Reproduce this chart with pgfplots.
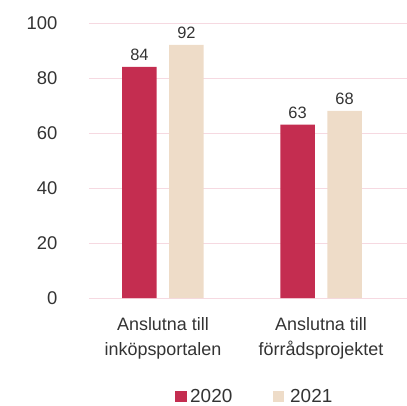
\documentclass[border=0pt]{standalone}
\usepackage{pgfplots}
\pgfplotsset{compat=1.18}
\usepackage{fontspec}
\setmainfont{Liberation Sans}
\definecolor{crim}{HTML}{C42D50}
\definecolor{beige}{HTML}{EEDCC8}
\definecolor{gridc}{HTML}{F6D9E1}
\definecolor{txt}{HTML}{333333}
\begin{document}
\begin{tikzpicture}
\useasboundingbox (-89bp,-108bp) rectangle (318bp,298bp);
\begin{axis}[
  at={(0,0)}, anchor=south west,
  scale only axis, width=318bp, height=275bp,
  xmin=-0.468, xmax=1.544, ymin=0, ymax=100,
  axis line style={draw=none},
  ytick={0,20,...,100},
  ymajorgrids, grid style={gridc, line width=0.8pt},
  major tick length=0pt,
  xtick={0,1}, xticklabels={},
  yticklabel style={font=\fontsize{18.5}{20}\selectfont, text=txt, xshift=-28bp},
  /pgf/number format/assume math mode=true,
  ybar, bar width=34.5bp,
  nodes near coords,
  every node near coord/.append style={font=\fontsize{16.5}{18}\selectfont, text=txt, yshift=3bp},
  clip=false,
]
\addplot[fill=crim, draw=none, bar shift=-23.5bp] coordinates {(0,84) (1,63)};
\addplot[fill=beige, draw=none, bar shift=23.5bp] coordinates {(0,92) (1,68)};
\node[align=center, font=\fontsize{18}{25}\selectfont, text=txt, anchor=north] at (axis cs:0,0) [yshift=-16bp] {Anslutna till\\inköpsportalen};
\node[align=center, font=\fontsize{18}{25}\selectfont, text=txt, anchor=north] at (axis cs:1,0) [yshift=-16bp] {Anslutna till\\förrådsprojektet};
\end{axis}
\fill[crim] (86bp,-104bp) rectangle (98bp,-93bp);
\node[anchor=base west, font=\fontsize{19}{20}\selectfont, text=txt, inner sep=0pt] at (101bp,-104bp) {2020};
\fill[beige] (184bp,-104bp) rectangle (195bp,-93bp);
\node[anchor=base west, font=\fontsize{19}{20}\selectfont, text=txt, inner sep=0pt] at (201bp,-104bp) {2021};
\end{tikzpicture}
\end{document}
